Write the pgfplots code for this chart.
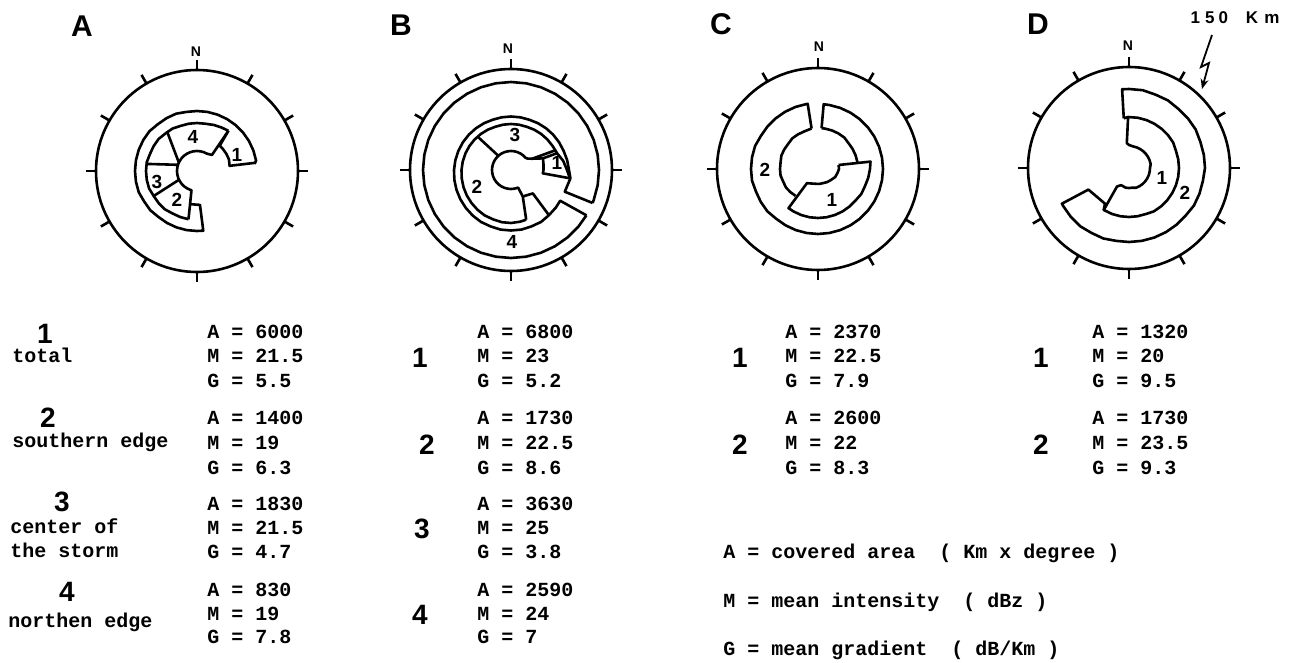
\documentclass[border=0pt]{standalone}
\usepackage{pgfplots}
\pgfplotsset{compat=1.18}
\usepgfplotslibrary{polar}
\usepackage{fontspec}
\setmainfont{Liberation Sans}
\newfontfamily\tw{Liberation Mono}
\usetikzlibrary{arrows.meta}
\pgfplotsset{storm/.style={width=101pt,height=101pt,scale only axis,anchor=center,
  xmin=0,xmax=360,ymin=0,ymax=101,xtick=\empty,ytick=\empty,
  grid=none,axis line style={line width=1.3pt},y axis line style={draw=none},
  clip=false,x filter/.expression={mod(810-x,360)}},
  sk/.style={black,line width=1.3pt,line join=round,no marks}}
\newcommand\ticks{%
\addplot[sk] coordinates {(0,101) (0,111)};
\addplot[sk] coordinates {(30,101) (30,111)};
\addplot[sk] coordinates {(60,101) (60,111)};
\addplot[sk] coordinates {(90,101) (90,111)};
\addplot[sk] coordinates {(120,101) (120,111)};
\addplot[sk] coordinates {(150,101) (150,111)};
\addplot[sk] coordinates {(180,101) (180,111)};
\addplot[sk] coordinates {(210,101) (210,111)};
\addplot[sk] coordinates {(240,101) (240,111)};
\addplot[sk] coordinates {(270,101) (270,111)};
\addplot[sk] coordinates {(300,101) (300,111)};
\addplot[sk] coordinates {(330,101) (330,111)};}
\begin{document}
\begin{tikzpicture}
\path[use as bounding box] (0,0) rectangle (648.5pt,-331.5pt);
% ---------------- A
\begin{polaraxis}[storm,at={(98.5pt,-85.5pt)}]
\ticks
\addplot[sk] coordinates {(83,58) (80,60) (70,60) (60,60) (50,60) (40,60) (30,60) (20,60) (10,60) (0,60) (-10,60) (-20,61) (-30,61) (-40,61) (-50,62) (-60,62) (-70,62) (-80,62) (-90,62) (-100,62) (-110,62) (-120,61) (-130,61) (-140,60) (-150,60) (-160,60) (-170,60) (-180,60) (-186,60) (-185,34) (-167,34)};
\addplot[sk] coordinates {(-170,49) (-160,49) (-150,49) (-140,50) (-130,50) (-120,50) (-110,51) (-100,51) (-90,51) (-80,51) (-70,50) (-60,50) (-50,50) (-40,49) (-30,49) (-20,48) (-10,48) (0,48) (10,48) (20,49) (30,50) (38,51)};
\addplot[sk] coordinates {(38,51) (43,22) (30,20) (20,20) (10,20) (0,20) (-10,20) (-20,20) (-30,20) (-40,20) (-50,20) (-60,20) (-70,20) (-80,20) (-90,20) (-100,20) (-110,20) (-120,20) (-130,20) (-140,20) (-150,20) (-160,20) (-164,20) (-170,49)};
\addplot[sk] coordinates {(82,59) (81,33) (70,34) (60,34) (50,34) (42,34) (38,51)};
\addplot[sk] coordinates {(-37,50) (-65,20)};
\addplot[sk] coordinates {(-82,51) (-72,20)};
\addplot[sk] coordinates {(-120,50) (-116,20)};
\end{polaraxis}
% ---------------- B
\begin{polaraxis}[storm,at={(255.5pt,-85pt)}]
\ticks
\addplot[sk] coordinates {(-239,88) (-230,88) (-220,88) (-210,88) (-200,88) (-190,88) (-180,88) (-170,88) (-160,88) (-150,88) (-140,88) (-130,88) (-120,88) (-110,88) (-100,88) (-90,88) (-80,88) (-70,88) (-60,88) (-50,88) (-40,88) (-30,88) (-20,88) (-10,88) (0,88) (10,88) (20,88) (30,88) (40,88) (50,88) (60,88) (70,88) (80,88) (90,88) (100,88) (110,88) (112,88)};
\addplot[sk] coordinates {(112,88) (112,58) (98,60) (90,58) (80,57) (70,56) (60,55.5) (50,55) (40,54.5) (30,54) (20,53.5) (10,53.5) (0,53.5) (-10,53.5) (-20,53.5) (-30,54) (-40,54.5) (-50,55) (-60,55.5) (-70,56) (-80,56.5) (-90,57) (-100,57.5) (-110,58) (-120,58.5) (-130,59) (-140,59.5) (-150,60) (-160,60) (-170,60.5) (-180,60.5) (-190,60.5) (-200,60) (-210,60) (-220,59) (-230,58.5) (-238,58) (-239,88)};
\addplot[sk] coordinates {(-220,59) (-223,32) (-204,29) (-197,52)};
\addplot[sk] coordinates {(-197,52) (-190,52.5) (-180,53) (-170,53) (-160,52.5) (-150,52.5) (-140,52) (-130,51.5) (-120,51) (-110,50.5) (-100,50) (-90,49.5) (-80,49) (-70,48.5) (-60,48) (-50,47.5) (-40,47) (-30,46.5) (-20,46) (-10,46) (0,46) (10,46) (20,46) (30,46.5) (40,47) (50,47.5) (60,48) (66,48.5) (70,49) (80,53) (90,56) (98,59.5)};
\addplot[sk] coordinates {(66,48.5) (62,24) (70,34) (70,49)};
\addplot[sk] coordinates {(70,34) (80,33) (90,32.5) (96,32) (98,59.5)};
\addplot[sk] coordinates {(62,24) (55,20) (50,19) (40,19) (30,19) (20,19) (10,19) (0,19) (-10,19) (-20,19) (-30,19) (-40,19) (-50,19) (-60,19) (-70,19) (-80,19) (-90,19) (-100,19) (-110,19) (-120,19) (-130,19) (-140,19) (-150,19) (-160,19) (-170,19) (-180,19) (-190,19) (-202,19) (-204,29)};
\addplot[sk] coordinates {(-45,47) (-42,20)};
\end{polaraxis}
% ---------------- C
\begin{polaraxis}[storm,at={(409pt,-84.5pt)}]
\ticks
\addplot[sk] coordinates {(5,41) (5,65) (10,65) (20,65) (30,65) (40,65) (50,65) (60,65) (70,65) (80,65) (90,65) (100,65) (110,65) (120,65) (130,65) (140,65) (150,65) (160,65) (170,65) (180,65) (190,65) (200,65) (210,65) (220,65) (230,66) (240,66) (250,66) (260,67) (270,67) (280,67) (290,67) (300,66) (310,66) (320,66) (330,66) (340,66) (350,66) (351,66) (351,41)};
\addplot[sk] coordinates {(5,41) (10,41) (20,41) (30,41) (40,41) (50,40) (60,40) (70,40) (80,40)};
\addplot[sk] coordinates {(351,41) (340,40) (330,40) (320,40) (310,39) (300,39) (290,39) (280,38) (270,38) (260,38) (250,37) (240,37) (230,36) (220,35)};
\addplot[sk] coordinates {(79,21) (82,53) (90,52) (100,51) (110,50) (120,50) (130,49) (140,49) (150,49) (160,49) (170,49) (180,49) (190,49) (200,49) (210,49) (217,49) (218,18) (205,16) (190,15) (175,15) (160,15) (145,16) (130,17) (115,19) (100,20) (90,21) (79,21)};
\end{polaraxis}
% ---------------- D
\begin{polaraxis}[storm,at={(564.5pt,-84pt)}]
\ticks
\addplot[sk] coordinates {(-6,50) (-5,79) (0,79) (10,79) (20,78) (30,78) (40,77) (50,77) (60,77) (70,76) (80,76) (90,76) (100,75) (110,75) (120,75) (130,74) (140,74) (150,74) (160,74) (170,74) (180,74) (190,74) (200,75) (210,75) (220,76) (230,76) (240,76) (242,76) (242,46) (214,43) (211,49)};
\addplot[sk] coordinates {(-6,50) (-1,51) (10,51) (20,51) (30,51) (40,51) (50,51) (60,51) (70,50) (80,50) (90,50) (100,50) (110,50) (120,50) (130,50) (140,50) (150,50) (160,49) (170,49) (180,49) (190,49) (200,49) (211,49) (213,22) (205,19) (200,19) (190,20) (180,20) (170,20) (160,21) (150,21) (140,21) (130,21) (120,21) (110,21) (100,21) (90,21) (80,22) (70,22) (60,22) (50,22) (40,22) (30,22) (20,22) (10,22) (0,23) (-5,25) (-1,51)};
\end{polaraxis}
% ---------------- text
\begin{scope}[x=0.5pt,y=-0.5pt]
\begin{scope}[every node/.style={inner sep=0pt,font=\bfseries\fontsize{15}{15}\selectfont}]
\node at (82,26) {A}; \node at (401,25) {B}; \node at (721,24) {C}; \node at (1038,24) {D};
\end{scope}
\begin{scope}[every node/.style={inner sep=0pt,font=\bfseries\fontsize{7}{7}\selectfont}]
\node at (196,52) {N}; \node at (508,49) {N}; \node at (819,47) {N}; \node at (1128,46) {N};
\node[font=\bfseries\fontsize{8.5}{8.5}\selectfont] at (1235,18) {1\hspace{2.5pt}5\hspace{2pt}0\hspace{9pt}K\hspace{3pt}m};
\end{scope}
\draw[line width=0.9pt,-{Stealth[length=5pt,width=4pt]}] (1212,35) -- (1201,67) -- (1209,63) -- (1202,89);
% digits in diagrams
\begin{scope}[every node/.style={inner sep=0pt,font=\bfseries\fontsize{9.5}{9.5}\selectfont}]
\node at (193,137) {4}; \node at (237,155) {1}; \node at (157,182) {3}; \node at (177,200) {2};
\node at (515,135) {3}; \node at (557,163) {1}; \node at (477,187) {2}; \node at (512,242) {4};
\node at (765,170) {2}; \node at (832,200) {1};
\node at (1162,178) {1}; \node at (1185,193) {2};
\end{scope}
% big digits
\begin{scope}[every node/.style={inner sep=0pt,font=\bfseries\fontsize{14}{14}\selectfont}]
\node at (45,334) {1}; \node at (48,418) {2}; \node at (62,502) {3}; \node at (67,592) {4};
\node at (420,358) {1}; \node at (427,445) {2}; \node at (422,529) {3}; \node at (420,615) {4};
\node at (740,358) {1}; \node at (740,445) {2};
\node at (1041,358) {1}; \node at (1041,445) {2};
\end{scope}
% typewriter text
\begin{scope}[every node/.style={inner sep=0pt,anchor=base west,font=\tw\bfseries\fontsize{10}{10}\selectfont}]
\node at (12,363) {total};
\node at (12,448) {southern edge};
\node at (10,533) {center of};
\node at (10,557) {the storm};
\node at (8,627) {northen edge};
\node at (207,339) {A = 6000}; \node at (207,363) {M = 21.5}; \node at (207,388) {G = 5.5};
\node at (207,425) {A = 1400}; \node at (207,450) {M = 19}; \node at (207,474) {G = 6.3};
\node at (207,510) {A = 1830}; \node at (207,534) {M = 21.5}; \node at (207,558) {G = 4.7};
\node at (207,596) {A = 830}; \node at (207,620) {M = 19}; \node at (207,643) {G = 7.8};
\node at (477,339) {A = 6800}; \node at (477,363) {M = 23}; \node at (477,388) {G = 5.2};
\node at (477,425) {A = 1730}; \node at (477,450) {M = 22.5}; \node at (477,474) {G = 8.6};
\node at (477,510) {A = 3630}; \node at (477,534) {M = 25}; \node at (477,558) {G = 3.8};
\node at (477,596) {A = 2590}; \node at (477,620) {M = 24}; \node at (477,643) {G = 7};
\node at (785,339) {A = 2370}; \node at (785,363) {M = 22.5}; \node at (785,388) {G = 7.9};
\node at (785,425) {A = 2600}; \node at (785,450) {M = 22}; \node at (785,474) {G = 8.3};
\node at (1092,339) {A = 1320}; \node at (1092,363) {M = 20}; \node at (1092,388) {G = 9.5};
\node at (1092,425) {A = 1730}; \node at (1092,450) {M = 23.5}; \node at (1092,474) {G = 9.3};
\node at (723,558) {A = covered area\ \ ( Km x degree )};
\node at (723,607) {M = mean intensity\ \ ( dBz )};
\node at (723,655) {G = mean gradient\ \ ( dB/Km )};
\end{scope}
\end{scope}
\end{tikzpicture}
\end{document}
